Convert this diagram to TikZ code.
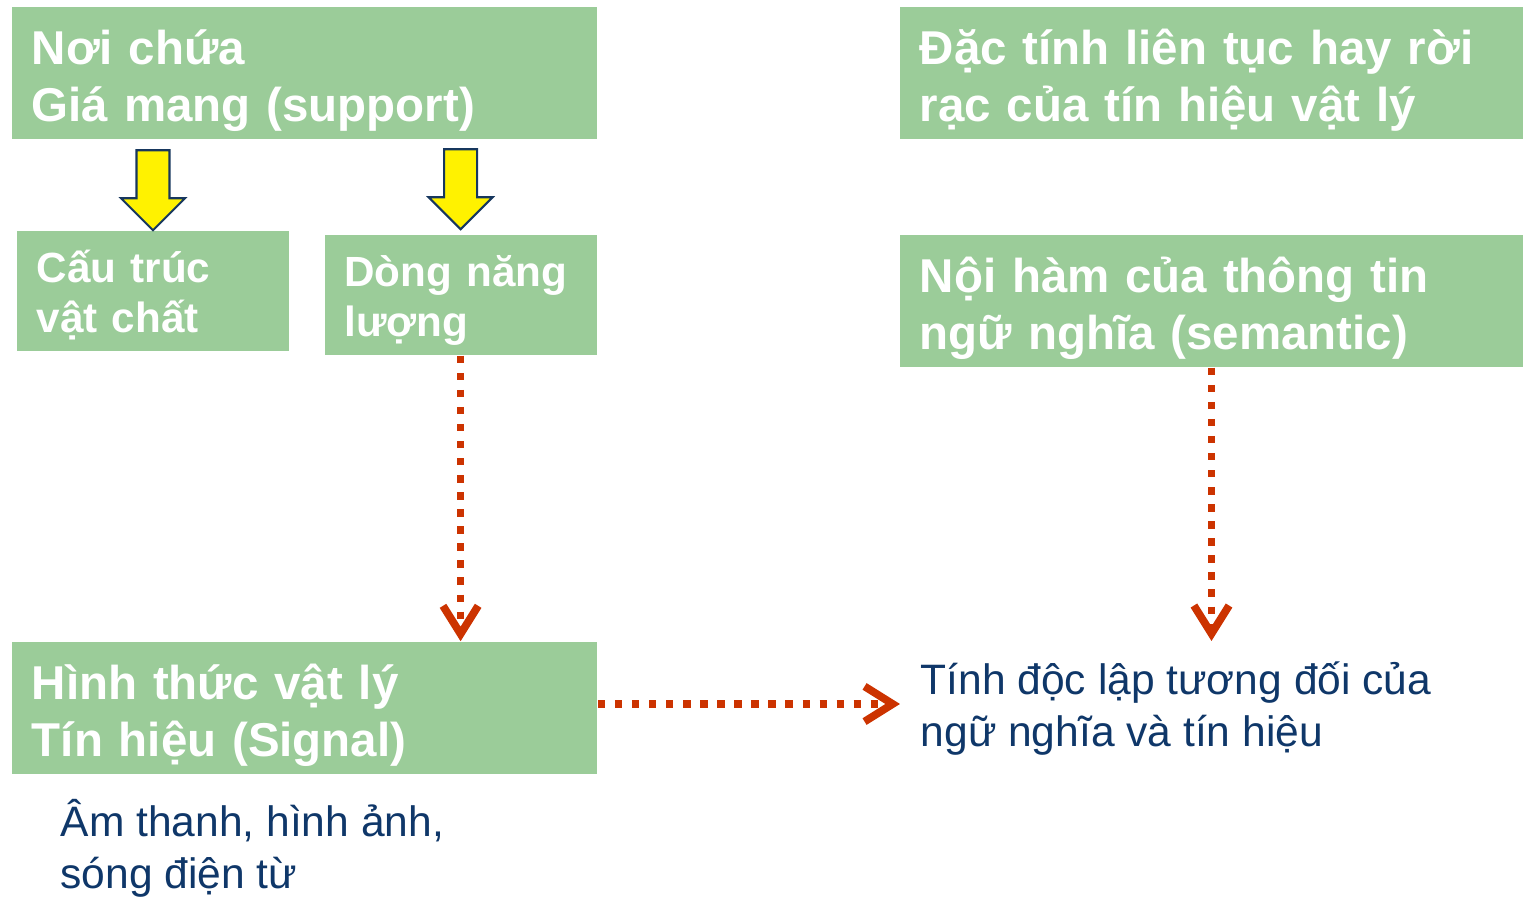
\documentclass[tikz,border=0pt]{standalone}
\usepackage{fontspec}
\setmainfont{Liberation Sans}
\usepackage{xcolor}
\usepackage{tikz}
\usetikzlibrary{positioning}
\usetikzlibrary{arrows.meta}
\usetikzlibrary{calc}
\definecolor{boxgreen}{HTML}{9BCC99}
\definecolor{textblue}{HTML}{0F3769}
\definecolor{dotred}{HTML}{CC3300}
\definecolor{arrowline}{HTML}{17375E}
\tikzset{
	greenbox/.style={
			rectangle,
			fill=boxgreen,
			text=white,
			align=left,
			inner xsep=0.2cm,
			inner ysep=0pt
		},
	bigbox/.style={
			greenbox,
			font=\bfseries\fontsize{13.5}{16.4}\selectfont,
			execute at begin node={\rule{0pt}{14.2pt}}
		},
	smallbox/.style={
			greenbox,
			font=\bfseries\fontsize{12}{14.2}\selectfont,
			execute at begin node={\rule{0pt}{11.7pt}},
			minimum width=2.72cm,
			text width=2.32cm,
			minimum height=1.2cm
		},
	plaintext/.style={
			text=textblue,
			align=left,
			inner sep=0pt,
			anchor=north west,
			font=\fontsize{12.1}{14.8}\selectfont
		},
	dotarrow/.style={
			draw=dotred,
			line width=2.2pt,
			dash pattern=on 2.1pt off 2.75pt,
			-{Straight Barb[length=8pt,width=10pt]}
		},
	yellowdown/.pic={
			\draw[fill=yellow, draw=arrowline, line width=0.6pt, line join=miter]
			(0,0) -- (-32,-32) -- (-16.5,-32) -- (-16.5,-80) -- (16.5,-80)
			-- (16.5,-32) -- (32,-32) -- cycle;
		}
}

\begin{document}
\begin{tikzpicture}[x=0.01cm, y=-0.01cm]
		\useasboundingbox (0,0) rectangle (1523,898);

		% Carrier
		\node[bigbox,
			minimum width=5.85cm,
			text width=5.45cm,
			minimum height=1.32cm
		] (support) at (304.5,73) {Nơi chứa\\Giá mang (support)};

		% Continuity of the signal
		\node[bigbox,
			minimum width=6.23cm,
			text width=5.83cm,
			minimum height=1.32cm
		] (continuity) at (1211.5,73) {Đặc tính liên tục hay rời\\rạc của tín hiệu vật lý};

		% Matter and energy
		\node[smallbox] (matter) at (153,291) {Cấu trúc\\vật chất};
		\node[smallbox,
			right=0.34cm of matter.north east,
			anchor=north west,
			yshift=-0.04cm
		] (energy) {Dòng năng\\lượng};

		% Semantic content
		\node[bigbox,
			minimum width=6.23cm,
			text width=5.83cm,
			minimum height=1.32cm
		] (semantic) at (1211.5,301) {Nội hàm của thông tin\\ngữ nghĩa (semantic)};

		% Physical form
		\node[bigbox,
			minimum width=5.85cm,
			text width=5.45cm,
			minimum height=1.32cm
		] (signal) at (304.5,708) {Hình thức vật lý\\Tín hiệu (Signal)};

		% Plain texts
		\node[plaintext] (independence) at (920,661) {Tính độc lập tương đối của\\ngữ nghĩa và tín hiệu};
		\node[plaintext] (examples) at (60,799) {Âm thanh, hình ảnh,\\sóng điện từ};

		% Yellow block arrows
		\pic at (matter.north) {yellowdown};
		\pic at ([yshift=0.05cm]energy.north) {yellowdown};

		% Dotted arrows
		\draw[dotarrow] (energy.south) -- (energy.south |- signal.north);

		\draw[dotarrow, shorten >=0.2cm] (semantic.south) -- (semantic.south |- independence.north);

		\draw[dotarrow, shorten >=0.2cm] ([yshift=0.04cm]signal.east)
		-- ([yshift=0.04cm]signal.east -| independence.west);
	\end{tikzpicture}
\end{document}
